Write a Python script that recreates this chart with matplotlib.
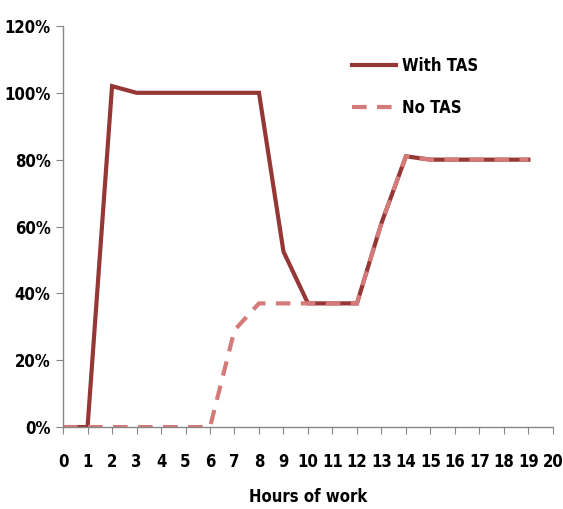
import numpy as np
import matplotlib.pyplot as plt
from matplotlib.ticker import PercentFormatter

# --- data ---
hours = list(range(0, 20))
with_tas = [0, 0, 102, 100, 100, 100, 100, 100, 100, 52.5, 37, 37, 37, 61, 81, 80, 80, 80, 80, 80]
no_tas = [0, 0, 0, 0, 0, 0, 0, 29, 37, 37, 37, 37, 37, 61, 81, 80, 80, 80, 80, 80]

plt.rcParams['font.family'] = ['DejaVu Sans']
plt.rcParams['font.stretch'] = 'condensed'

fig = plt.figure(figsize=(5.63, 5.09), dpi=100)
ax = fig.add_axes([0.112, 0.161, 0.870, 0.788])

ax.plot(hours, with_tas, color='#953735', linewidth=3, label='With TAS',
        solid_joinstyle='miter')
ax.plot(hours, no_tas, color='#D47A78', linewidth=3, linestyle=(0, (3.5, 2.5)),
        label='No TAS')

ax.set_xlim(0, 20)
ax.set_ylim(0, 120)
ax.set_xticks(range(0, 21))
ax.set_yticks(range(0, 121, 20))
ax.yaxis.set_major_formatter(PercentFormatter(decimals=0))

for side in ['top', 'right']:
    ax.spines[side].set_visible(False)
for side in ['left', 'bottom']:
    ax.spines[side].set_color('#868686')
    ax.spines[side].set_linewidth(1)
ax.tick_params(axis='both', colors='#868686', labelcolor='black', length=5,
               labelsize=12)
ax.tick_params(axis='y', pad=4)
ax.tick_params(axis='x', pad=14)
for lab in ax.get_xticklabels() + ax.get_yticklabels():
    lab.set_fontweight('bold')

ax.set_xlabel('Hours of work', fontsize=12, fontweight='bold', labelpad=12)

leg = ax.legend(loc='upper left', bbox_to_anchor=(0.56, 0.96), frameon=False,
                fontsize=12, handlelength=2.6, labelspacing=1.45, handletextpad=0.4)
for t in leg.get_texts():
    t.set_fontweight('bold')

fig.savefig('out.png', dpi=100)
